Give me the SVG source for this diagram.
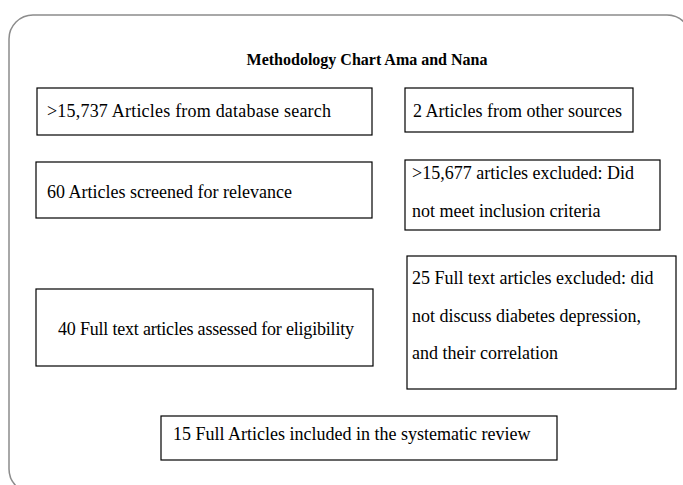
<svg xmlns="http://www.w3.org/2000/svg" width="683" height="485" viewBox="0 0 683 485">
<style>
.frame{fill:none;stroke:#8c8c8c;stroke-width:1.5}
.box{fill:#fff;stroke:#000;stroke-width:1.2}
.t{font-family:"Liberation Serif","Times New Roman",serif;font-size:18px;fill:#000}
.title{font-family:"Liberation Serif","Times New Roman",serif;font-size:16px;font-weight:bold;fill:#000;text-anchor:middle}
</style>
<rect width="683" height="485" fill="#fff"/>
<rect class="frame" x="9" y="15" width="682" height="478" rx="24" ry="24"/>
<text class="title" x="367" y="65">Methodology Chart Ama and Nana</text>
<g id="connectors"></g>
<g id="n1"><rect class="box" x="37" y="88" width="335" height="47"/><text class="t" x="47" y="117" textLength="284">&gt;15,737 Articles from database search</text></g>
<g id="n2"><rect class="box" x="405" y="88" width="228" height="44"/><text class="t" x="413" y="117">2 Articles from other sources</text></g>
<g id="n3"><rect class="box" x="36" y="162" width="336" height="56"/><text class="t" x="47" y="198">60 Articles screened for relevance</text></g>
<g id="n4"><rect class="box" x="405" y="160" width="255" height="70"/><text class="t" x="412" y="179">&gt;15,677 articles excluded: Did</text><text class="t" x="412" y="217">not meet inclusion criteria</text></g>
<g id="n5"><rect class="box" x="36" y="289" width="337" height="77"/><text class="t" x="58" y="335" textLength="296">40 Full text articles assessed for eligibility</text></g>
<g id="n6"><rect class="box" x="407" y="256" width="269" height="133"/><text class="t" x="412" y="284">25 Full text articles excluded: did</text><text class="t" x="412" y="322">not discuss diabetes depression,</text><text class="t" x="412" y="359">and their correlation</text></g>
<g id="n7"><rect class="box" x="161" y="416" width="396" height="44"/><text class="t" x="173" y="440">15 Full Articles included in the systematic review</text></g>
</svg>
